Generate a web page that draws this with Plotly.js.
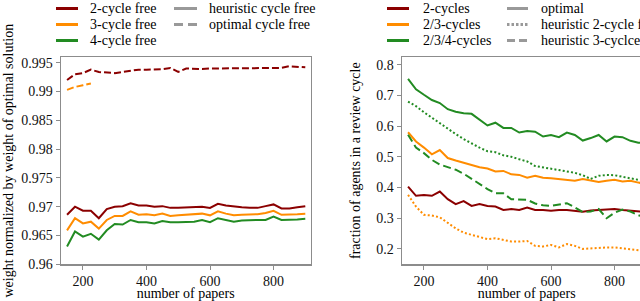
<!DOCTYPE html>
<html><head><meta charset="utf-8">
<script src="https://cdn.plot.ly/plotly-3.0.1.min.js"></script>
<style>html,body{margin:0;padding:0;overflow:hidden;background:#fff;width:640px;height:301px}#chart{width:656px;height:301px}</style>
</head><body><div id="chart"></div>
<script>
// ---- data ----
const papers = [150,175,200,225,250,275,300,325,350,375,400,425,450,475,500,525,550,575,600,625,650,675,700,725,750,775,800,825,850,875,900];
const papersShort = [150,175,200,225];

// left panel: weight normalized by optimal
const heur2Free = [0.9686,0.9700,0.9693,0.9693,0.9680,0.9696,0.9700,0.9701,0.9706,0.9702,0.9702,0.9700,0.9701,0.9698,0.9698,0.9699,0.9699,0.9700,0.9698,0.9705,0.9702,0.9700,0.9699,0.9698,0.9698,0.9701,0.9704,0.9697,0.9697,0.9699,0.9701];
const heur3Free = [0.9659,0.9680,0.9671,0.9674,0.9662,0.9677,0.9684,0.9684,0.9692,0.9686,0.9687,0.9685,0.9688,0.9684,0.9685,0.9686,0.9686,0.9688,0.9685,0.9692,0.9688,0.9685,0.9686,0.9686,0.9687,0.9689,0.9693,0.9686,0.9686,0.9687,0.9688];
const heur4Free = [0.9631,0.9657,0.9648,0.9653,0.9643,0.9659,0.9670,0.9669,0.9677,0.9673,0.9673,0.9671,0.9675,0.9673,0.9673,0.9673,0.9674,0.9677,0.9673,0.9680,0.9677,0.9674,0.9676,0.9677,0.9677,0.9677,0.9683,0.9677,0.9677,0.9678,0.9679];
const opt2Free  = [0.9920,0.9930,0.9932,0.9938,0.9934,0.9933,0.9932,0.9934,0.9936,0.9938,0.9938,0.9938,0.9939,0.9941,0.9934,0.9940,0.9939,0.9939,0.9940,0.9940,0.9940,0.9940,0.9940,0.9940,0.9940,0.9941,0.9940,0.9941,0.9944,0.9943,0.9942];
const opt3Free  = [0.9903,0.9908,0.9911,0.9914];

// right panel: fraction of agents in a review cycle
const opt2      = [0.403,0.373,0.376,0.373,0.387,0.362,0.346,0.356,0.340,0.346,0.340,0.338,0.327,0.330,0.327,0.335,0.327,0.327,0.324,0.327,0.327,0.325,0.321,0.325,0.327,0.327,0.330,0.327,0.324,0.321,0.320];
const opt23     = [0.580,0.550,0.530,0.508,0.522,0.496,0.488,0.481,0.474,0.466,0.462,0.452,0.454,0.443,0.441,0.432,0.438,0.432,0.430,0.428,0.425,0.422,0.428,0.424,0.418,0.422,0.425,0.420,0.422,0.416,0.412];
const heur2_23  = [0.376,0.338,0.311,0.309,0.303,0.284,0.267,0.253,0.246,0.240,0.232,0.235,0.229,0.224,0.224,0.226,0.210,0.208,0.213,0.205,0.216,0.210,0.200,0.202,0.202,0.205,0.205,0.202,0.199,0.197,0.193];
const opt234    = [0.754,0.720,0.702,0.685,0.675,0.655,0.647,0.642,0.640,0.620,0.602,0.611,0.594,0.594,0.579,0.584,0.582,0.566,0.571,0.564,0.579,0.571,0.553,0.561,0.571,0.550,0.566,0.564,0.552,0.546,0.545];
const heur2_234 = [0.680,0.665,0.645,0.627,0.608,0.590,0.574,0.558,0.543,0.530,0.518,0.515,0.505,0.500,0.492,0.485,0.470,0.466,0.462,0.458,0.452,0.448,0.440,0.428,0.438,0.441,0.440,0.436,0.430,0.425,0.425];
const heur3_234 = [0.572,0.530,0.512,0.490,0.475,0.466,0.458,0.445,0.428,0.412,0.395,0.381,0.381,0.362,0.360,0.360,0.348,0.342,0.340,0.345,0.349,0.335,0.320,0.322,0.330,0.300,0.318,0.328,0.322,0.310,0.300];

const xTicks = [200,400,600,800];
const xTickText = ['200','400','600','800'];
const yTicksL = [0.96,0.965,0.97,0.975,0.98,0.985,0.99,0.995];
const yTickTextL = ['0.96','0.965','0.97','0.975','0.98','0.985','0.99','0.995'];
const yTicksR = [0.2,0.3,0.4,0.5,0.6,0.7,0.8];
const yTickTextR = ['0.2','0.3','0.4','0.5','0.6','0.7','0.8'];

const legendLeftColors = ['2-cycle free','3-cycle free','4-cycle free'];
const legendLeftStyles = ['heuristic cycle free','optimal cycle free'];
const legendRightColors = ['2-cycles','2/3-cycles','2/3/4-cycles'];
const legendRightStyles = ['optimal','heuristic 2-cycle free','heuristic 3-cyclce free'];

// ---- style ----
const RED='#8b0000', ORANGE='#ff8c00', GREEN='#228b22', GRAY='#999999';
const FONT="Liberation Serif";
const W=656, H=301;
const px = v => v/W, py = v => 1 - v/H;

function line(x,y,color,dash,xa,ya){
  return {x:x,y:y,type:'scatter',mode:'lines',xaxis:xa,yaxis:ya,showlegend:false,hoverinfo:'skip',
          line:{color:color,width:2,dash:dash||'solid'}};
}
const traces = [
  line(papers,heur2Free,RED,'solid','x','y'),
  line(papers,heur3Free,ORANGE,'solid','x','y'),
  line(papers,heur4Free,GREEN,'solid','x','y'),
  line(papers,opt2Free,RED,'7px,3px','x','y'),
  line(papersShort,opt3Free,ORANGE,'7px,3px','x','y'),
  line(papers,opt2,RED,'solid','x2','y2'),
  line(papers,opt23,ORANGE,'solid','x2','y2'),
  line(papers,heur2_23,ORANGE,'2px,2.2px','x2','y2'),
  line(papers,opt234,GREEN,'solid','x2','y2'),
  line(papers,heur2_234,GREEN,'2px,2.2px','x2','y2'),
  line(papers,heur3_234,GREEN,'8px,4px','x2','y2'),
];

// ---- legends (keys as shapes, labels as text) ----
const shapes=[], annotations=[];
function key(x0,x1,y,color,dash,label,tx){
  shapes.push({type:'line',xref:'paper',yref:'paper',x0:px(x0),x1:px(x1),y0:py(y),y1:py(y),
               line:{color:color,width:3,dash:dash}});
  annotations.push({xref:'paper',yref:'paper',x:px(tx),y:py(y+0.3),xanchor:'left',yanchor:'middle',
               showarrow:false,text:label,borderpad:0,font:{family:FONT,size:14,color:'#000'}});
}
const rowsL=[8.5,24.5,40.5], rowsR=[8.5,24.5,40.5];
const colsL=[RED,ORANGE,GREEN];
legendLeftColors.forEach((t,i)=>key(56,78,rowsL[i],colsL[i],'solid',t,89));
key(174,197,rowsL[0],GRAY,'solid',legendLeftStyles[0],208);
key(174,197,rowsL[1],GRAY,'9px,5px',legendLeftStyles[1],208);
legendRightColors.forEach((t,i)=>key(387,409,rowsR[i],colsL[i],'solid',t,422));
key(507,528,rowsR[0],GRAY,'solid',legendRightStyles[0],540);
key(507,528,rowsR[1],GRAY,'2.5px,2px',legendRightStyles[1],540);
key(507,528,rowsR[2],GRAY,'8px,4px',legendRightStyles[2],540);

const axCommon = () => ({showline:true,mirror:true,linecolor:'#8c8c8c',linewidth:1.2,showgrid:false,zeroline:false,
  ticks:'outside',ticklen:4,tickwidth:1,tickcolor:'#8c8c8c',tickfont:{family:FONT,size:14,color:'#111'}});
const yDom=[(H-264.3)/H,(H-57)/H];
const tFont = () => ({family:FONT,size:14,color:'#000'});

const layout = {
  width:W,height:H,margin:{l:0,r:0,t:0,b:0},paper_bgcolor:'#fff',plot_bgcolor:'#fff',showlegend:false,
  font:{family:FONT,size:14,color:'#000'},
  xaxis:Object.assign(axCommon(),{domain:[px(60.7),px(310.7)],range:[130,917],anchor:'y',tickvals:xTicks,ticktext:xTickText,
        title:{text:'number of papers',font:tFont(),standoff:5}}),
  yaxis:Object.assign(axCommon(),{domain:yDom,range:[0.96,0.996],anchor:'x',tickvals:yTicksL,ticktext:yTickTextL,
        title:{text:'weight normalized by weight of optimal solution',font:tFont(),standoff:4}}),
  xaxis2:Object.assign(axCommon(),{domain:[px(401.7),px(651.7)],range:[130,917],anchor:'y2',tickvals:xTicks,ticktext:xTickText,
        title:{text:'number of papers',font:tFont(),standoff:5}}),
  yaxis2:Object.assign(axCommon(),{domain:yDom,range:[0.15,0.825],anchor:'x2',tickvals:yTicksR,ticktext:yTickTextR,
        title:{text:'fraction of agents in a review cycle',font:tFont(),standoff:12}}),
  shapes:shapes,annotations:annotations
};
Plotly.newPlot('chart',traces,layout,{staticPlot:true,displayModeBar:false});
</script></body></html>
